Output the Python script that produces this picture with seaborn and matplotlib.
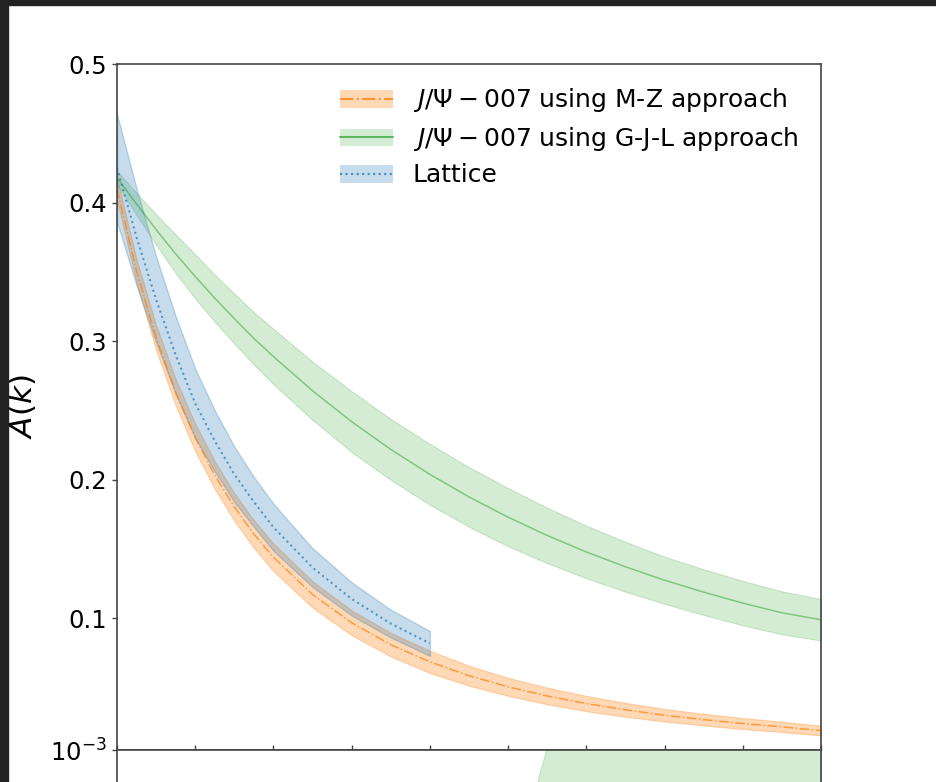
import numpy as np
import seaborn as sns
import matplotlib.pyplot as plt
from matplotlib.patches import Patch, Rectangle
from matplotlib.lines import Line2D

# k grid (x tick labels are not visible in the reference)
k = [0.0, 0.125, 0.25, 0.375, 0.5, 0.625, 0.75, 0.875, 1.0, 1.25, 1.5, 1.75, 2.0, 2.25,
     2.5, 2.75, 3.0, 3.25, 3.5, 3.75, 4.0, 4.25, 4.5]

# J/Psi-007, M-Z approach
mz_mid = [0.410, 0.3506, 0.3025, 0.2631, 0.2305, 0.2033, 0.1803, 0.1608, 0.1441, 0.1172,
          0.0968, 0.0810, 0.0686, 0.0586, 0.0506, 0.0440, 0.0385, 0.0340, 0.0301, 0.0269,
          0.0241, 0.0217, 0.0190]
mz_err = [0.008, 0.0085, 0.009, 0.0095, 0.010, 0.010, 0.010, 0.010, 0.010, 0.0095,
          0.009, 0.0085, 0.008, 0.0072, 0.0065, 0.006, 0.0055, 0.005, 0.0045, 0.0042,
          0.004, 0.0037, 0.0035]

# J/Psi-007, G-J-L approach
gjl_mid = [0.418, 0.399, 0.3805, 0.363, 0.3467, 0.331, 0.3163, 0.302, 0.2889, 0.2642,
           0.2419, 0.2219, 0.2039, 0.1876, 0.1730, 0.1598, 0.1479, 0.1372, 0.1275, 0.1189,
           0.1110, 0.1040, 0.0990]
gjl_err = [0.005, 0.008, 0.011, 0.014, 0.016, 0.017, 0.018, 0.019, 0.020, 0.021,
           0.022, 0.022, 0.022, 0.0215, 0.021, 0.020, 0.019, 0.018, 0.017, 0.0165,
           0.016, 0.0155, 0.015]

# Lattice
k_lat = [0.0, 0.125, 0.25, 0.375, 0.5, 0.625, 0.75, 0.875, 1.0, 1.25, 1.5, 1.75, 2.0]
lat_mid = [0.425, 0.375, 0.330, 0.290, 0.2551, 0.228, 0.2039, 0.184, 0.1657, 0.1366,
           0.1140, 0.0962, 0.0819]
lat_err = [0.039, 0.035, 0.031, 0.028, 0.025, 0.022, 0.020, 0.018, 0.017, 0.014,
           0.012, 0.010, 0.009]

# lower (log) panel, only its top edge is visible
k_low = [2.5, 2.6, 2.7, 2.8, 3.0, 3.5, 4.0, 4.5]
low_hi = [4e-5, 2e-4, 6.5e-4, 1.8e-3, 5e-3, 1e-2, 1.5e-2, 2e-2]
low_lo = [1e-7, 1e-7, 1e-7, 1e-7, 1e-7, 1e-7, 1e-7, 1e-7]

labels = [r"$J/\Psi-007$ using M-Z approach",
          r"$J/\Psi-007$ using G-J-L approach",
          "Lattice"]

sns.set_style("ticks", {"text.color": "black", "axes.labelcolor": "black",
                        "xtick.color": "#444444", "ytick.color": "#444444",
                        "axes.edgecolor": "#444444"})
plt.rcParams['font.family'] = ['DejaVu Sans']
plt.rcParams['mathtext.fontset'] = 'dejavusans'

c_or, c_gr, c_bl = "#ff7f0e", "#2ca02c", "#1f77b4"

W, H = 936, 782
fig = plt.figure(figsize=(W / 100, H / 100), dpi=100)
fig.patch.set_facecolor("white")

L, R, T, B = 117, 821, 64, 750
ax = fig.add_axes([L / W, 1 - B / H, (R - L) / W, (B - T) / H])
ax2 = fig.add_axes([L / W, 1 - 1000 / H, (R - L) / W, (1000 - B) / H])

# top panel
ax.fill_between(k, np.array(mz_mid) - mz_err, np.array(mz_mid) + mz_err,
                color=c_or, alpha=0.3, lw=0.8)
sns.lineplot(x=k, y=mz_mid, ax=ax, color=c_or, linestyle="-.", lw=1.1, alpha=0.7)

ax.fill_between(k, np.array(gjl_mid) - gjl_err, np.array(gjl_mid) + gjl_err,
                color=c_gr, alpha=0.2, lw=0.8)
sns.lineplot(x=k, y=gjl_mid, ax=ax, color=c_gr, linestyle="-", lw=1.1, alpha=0.5)

ax.fill_between(k_lat, np.array(lat_mid) - lat_err, np.array(lat_mid) + lat_err,
                color=c_bl, alpha=0.25, lw=1.0)
sns.lineplot(x=k_lat, y=lat_mid, ax=ax, color=c_bl, linestyle=":", lw=1.5, alpha=0.7)

ax.set_xlim(0, 4.5)
ax.set_ylim(0.005, 0.5)
ax.set_xticks(np.arange(0, 4.51, 0.5))
ax.set_yticks([0.1, 0.2, 0.3, 0.4, 0.5])
ax.tick_params(axis="x", direction="in", length=3.5, width=1, labelbottom=False)
ax.tick_params(axis="y", direction="out", length=3.5, width=1, labelsize=17.5,
               labelcolor="black")
ax.set_ylabel(r"$A(k)$", fontsize=22.5, labelpad=22)
for s in ax.spines.values():
    s.set_visible(True)
    s.set_linewidth(1.2)

handles = [(Patch(color=c_or, alpha=0.3, lw=0), Line2D([], [], color=c_or, ls="-.", lw=1.5, alpha=0.8)),
           (Patch(color=c_gr, alpha=0.2, lw=0), Line2D([], [], color=c_gr, ls="-", lw=1.5, alpha=0.7)),
           (Patch(color=c_bl, alpha=0.25, lw=0), Line2D([], [], color=c_bl, ls=":", lw=1.5, alpha=0.8))]
ax.legend(handles, labels, loc="upper right", frameon=False, fontsize=18,
          handlelength=2.1, labelspacing=0.42)

# lower panel (log scale), mostly cut off
ax2.fill_between(k_low, low_lo, low_hi, color=c_gr, alpha=0.2, lw=0.8)
ax2.set_yscale("log")
ax2.set_xlim(0, 4.5)
ax2.set_ylim(1e-5, 1e-3)
ax2.set_yticks([1e-3])
ax2.minorticks_off()
ax2.set_xticks([])
ax2.tick_params(axis="y", direction="out", length=3.5, width=1, labelsize=17.5,
                labelcolor="black")
for s in ax2.spines.values():
    s.set_linewidth(1.2)

# dark screenshot border
fig.add_artist(Rectangle((0, 1 - 5 / H), 1, 5 / H, transform=fig.transFigure,
                         color="#232323", zorder=10))
fig.add_artist(Rectangle((0, 0), 8 / W, 1, transform=fig.transFigure,
                         color="#232323", zorder=10))

fig.savefig("out.png", dpi=100)
